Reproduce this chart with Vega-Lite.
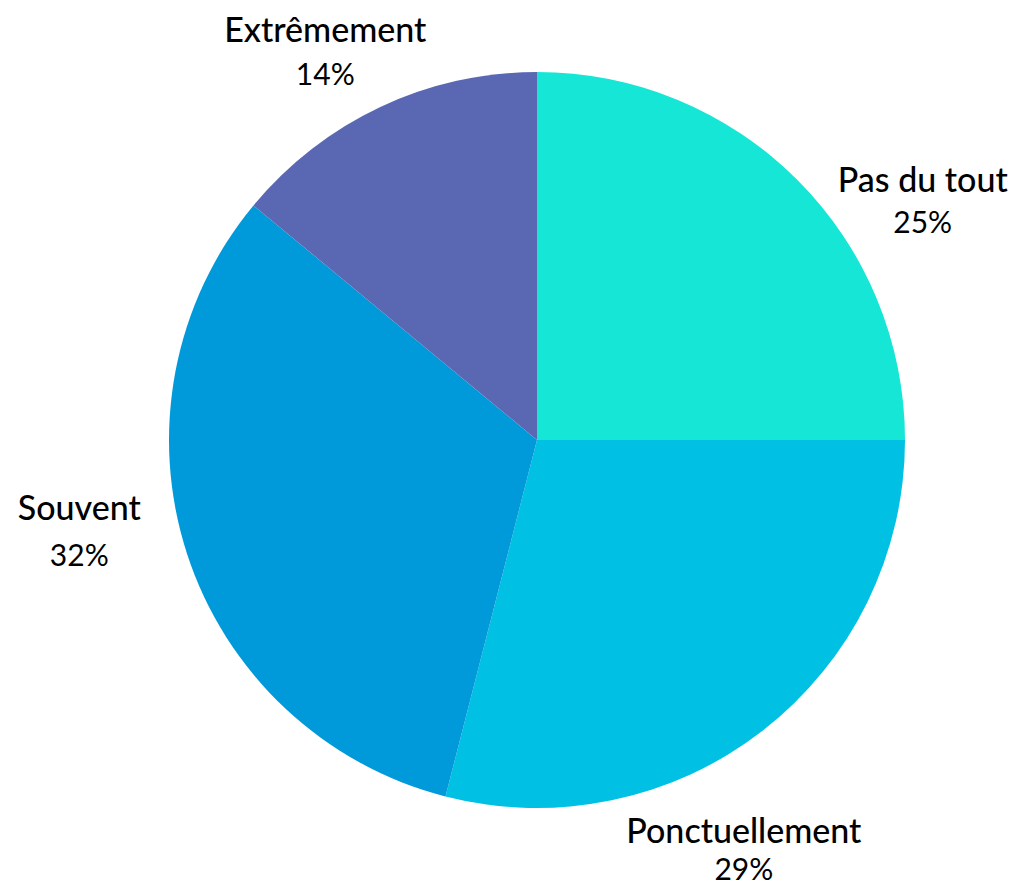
{
  "$schema": "https://vega.github.io/schema/vega-lite/v6.json",
  "autosize": "none",
  "width": 972,
  "height": 880,
  "padding": {"left": 51, "top": 0, "right": 0, "bottom": 9},
  "background": "white",
  "config": {"view": {"stroke": null}},
  "data": {"values": [
    {"idx": 1, "cat": "Pas du tout", "pct": 25, "label": "25%"},
    {"idx": 2, "cat": "Ponctuellement", "pct": 29, "label": "29%"},
    {"idx": 3, "cat": "Souvent", "pct": 32, "label": "32%"},
    {"idx": 4, "cat": "Extrêmement", "pct": 14, "label": "14%"}
  ]},
  "encoding": {
    "theta": {"field": "pct", "type": "quantitative", "stack": true},
    "order": {"field": "idx", "type": "quantitative"}
  },
  "layer": [
    {
      "mark": {"type": "arc", "outerRadius": 368},
      "encoding": {
        "color": {
          "field": "cat", "type": "nominal", "legend": null,
          "scale": {
            "domain": ["Pas du tout", "Ponctuellement", "Souvent", "Extrêmement"],
            "range": ["#15E6D6", "#00C0E3", "#0099DA", "#5A68B4"]
          }
        }
      }
    },
    {
      "mark": {
        "type": "text", "radius": 455, "font": "Lato", "fontSize": 34, "fontWeight": 500,
        "align": "center", "baseline": "alphabetic", "color": "#000000",
        "dx": {"expr": "datum.cat === 'Pas du tout' ? 64 : datum.cat === 'Ponctuellement' ? -72 : datum.cat === 'Souvent' ? -25 : -18"},
        "dy": {"expr": "datum.cat === 'Pas du tout' ? 74 : datum.cat === 'Ponctuellement' ? 43 : datum.cat === 'Souvent' ? -61 : 14"}
      },
      "encoding": {"text": {"field": "cat", "type": "nominal"}}
    },
    {
      "mark": {
        "type": "text", "radius": 455, "font": "Lato", "fontSize": 30, "fontWeight": 400,
        "align": "center", "baseline": "alphabetic", "color": "#000000",
        "dx": {"expr": "datum.cat === 'Pas du tout' ? 64 : datum.cat === 'Ponctuellement' ? -72 : datum.cat === 'Souvent' ? -25 : -18"},
        "dy": {"expr": "datum.cat === 'Pas du tout' ? 115 : datum.cat === 'Ponctuellement' ? 80 : datum.cat === 'Souvent' ? -15 : 57"}
      },
      "encoding": {"text": {"field": "label", "type": "nominal"}}
    }
  ]
}
